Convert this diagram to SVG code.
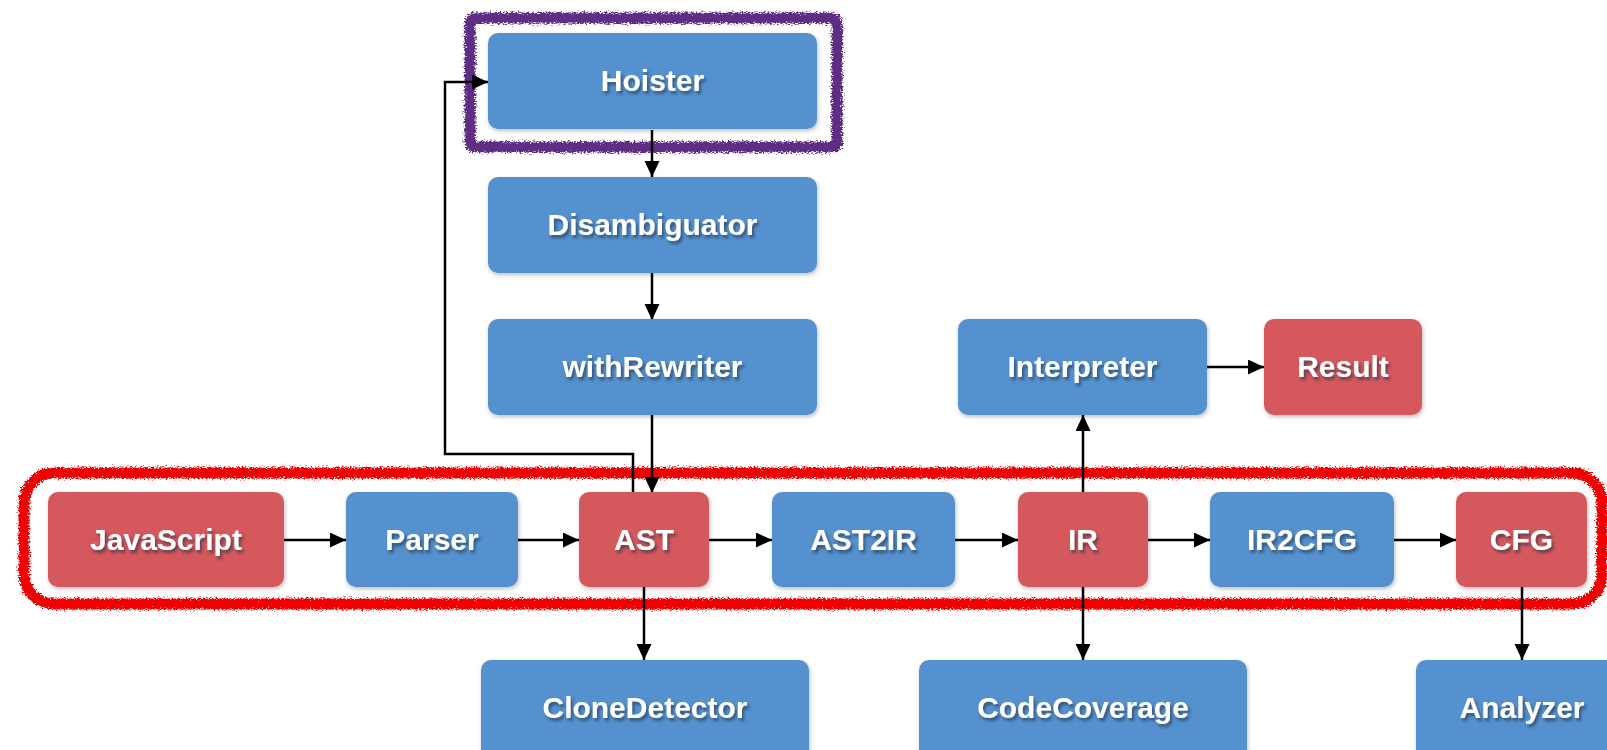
<svg xmlns="http://www.w3.org/2000/svg" width="1607" height="750" viewBox="0 0 1607 750">
<style>
.blue{fill:#5591CE;}
.red{fill:#D5585D;}
.box{filter:url(#boxsh);}
.lbl{font-family:"Liberation Sans",Arial,sans-serif;font-weight:bold;font-size:30px;fill:#FFFFFF;text-anchor:middle;filter:url(#txtsh);}
.conn{fill:none;stroke:#000;stroke-width:2.5;marker-end:url(#arr);}
</style>
<defs>
<marker id="arr" markerUnits="userSpaceOnUse" markerWidth="18" markerHeight="16" refX="16" refY="7.5" orient="auto">
<path d="M0,0 L16,7.5 L0,15 z" fill="#000"/>
</marker>
<filter id="boxsh" x="-10%" y="-10%" width="120%" height="130%">
<feDropShadow dx="1" dy="2" stdDeviation="2" flood-color="#000" flood-opacity="0.25"/>
</filter>
<filter id="txtsh" x="-10%" y="-20%" width="120%" height="150%">
<feDropShadow dx="2" dy="3" stdDeviation="1.5" flood-color="#1a2a40" flood-opacity="0.6"/>
</filter>
<filter id="rough" x="-5%" y="-10%" width="110%" height="120%">
<feTurbulence type="fractalNoise" baseFrequency="0.5 0.9" numOctaves="3" seed="4" result="n"/>
<feDisplacementMap in="SourceGraphic" in2="n" scale="8" xChannelSelector="R" yChannelSelector="G"/>
</filter>
</defs>
<rect width="1607" height="750" fill="#FFFFFF"/>
<g id="highlights">
<rect x="24" y="473" width="1578" height="131" rx="30" fill="none" stroke="#F00000" stroke-width="11" filter="url(#rough)"/>
<rect x="470" y="18" width="367" height="129" rx="4" fill="none" stroke="#5E2D84" stroke-width="11" filter="url(#rough)"/>
</g>
<g id="connectors">
<path class="conn" d="M284,540 H346"/>
<path class="conn" d="M518,540 H579"/>
<path class="conn" d="M709,540 H772"/>
<path class="conn" d="M955,540 H1018"/>
<path class="conn" d="M1148,540 H1210"/>
<path class="conn" d="M1394,540 H1456"/>
<path class="conn" d="M1207,367 H1264"/>
<path class="conn" d="M1083,493 V415"/>
<path class="conn" d="M1083,587 V660"/>
<path class="conn" d="M644,587 V660"/>
<path class="conn" d="M1522,587 V660"/>
<path class="conn" d="M652,130 V177"/>
<path class="conn" d="M652,273 V320"/>
<path class="conn" d="M652,415 V493"/>
<path class="conn" d="M633,493 V454 H445 V82 H488"/>
</g>
<g id="Hoister"><rect class="box blue" x="488" y="33" width="329" height="96" rx="10"/><text class="lbl" x="652.5" y="91">Hoister</text></g>
<g id="Disambiguator"><rect class="box blue" x="488" y="177" width="329" height="96" rx="10"/><text class="lbl" x="652.5" y="235">Disambiguator</text></g>
<g id="withRewriter"><rect class="box blue" x="488" y="319" width="329" height="96" rx="10"/><text class="lbl" x="652.5" y="377">withRewriter</text></g>
<g id="Interpreter"><rect class="box blue" x="958" y="319" width="249" height="96" rx="10"/><text class="lbl" x="1082.5" y="377">Interpreter</text></g>
<g id="Result"><rect class="box red" x="1264" y="319" width="158" height="96" rx="10"/><text class="lbl" x="1343" y="377">Result</text></g>
<g id="JavaScript"><rect class="box red" x="48" y="492" width="236" height="95" rx="10"/><text class="lbl" x="166" y="550">JavaScript</text></g>
<g id="Parser"><rect class="box blue" x="346" y="492" width="172" height="95" rx="10"/><text class="lbl" x="432" y="550">Parser</text></g>
<g id="AST"><rect class="box red" x="579" y="492" width="130" height="95" rx="10"/><text class="lbl" x="644" y="550">AST</text></g>
<g id="AST2IR"><rect class="box blue" x="772" y="492" width="183" height="95" rx="10"/><text class="lbl" x="863.5" y="550">AST2IR</text></g>
<g id="IR"><rect class="box red" x="1018" y="492" width="130" height="95" rx="10"/><text class="lbl" x="1083" y="550">IR</text></g>
<g id="IR2CFG"><rect class="box blue" x="1210" y="492" width="184" height="95" rx="10"/><text class="lbl" x="1302" y="550">IR2CFG</text></g>
<g id="CFG"><rect class="box red" x="1456" y="492" width="131" height="95" rx="10"/><text class="lbl" x="1521.5" y="550">CFG</text></g>
<g id="CloneDetector"><rect class="box blue" x="481" y="660" width="328" height="100" rx="10"/><text class="lbl" x="645" y="718">CloneDetector</text></g>
<g id="CodeCoverage"><rect class="box blue" x="919" y="660" width="328" height="100" rx="10"/><text class="lbl" x="1083" y="718">CodeCoverage</text></g>
<g id="Analyzer"><rect class="box blue" x="1416" y="660" width="212" height="100" rx="10"/><text class="lbl" x="1522" y="718">Analyzer</text></g>
</svg>
